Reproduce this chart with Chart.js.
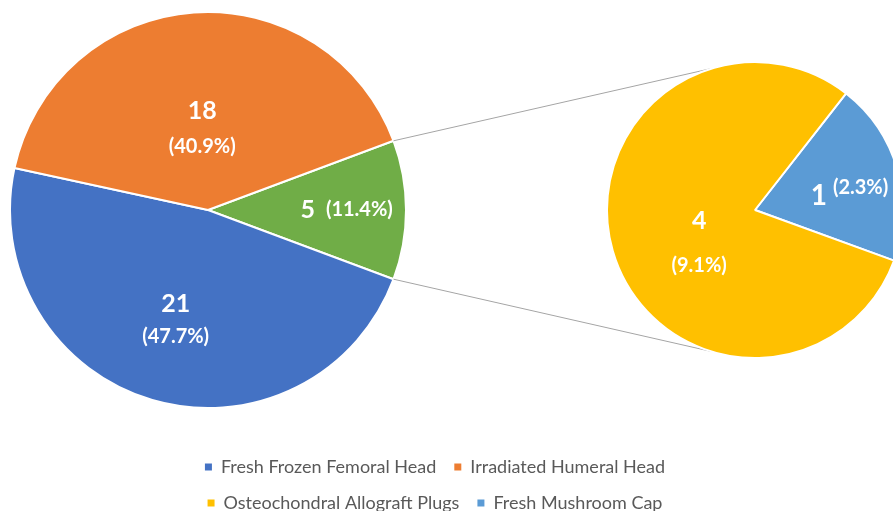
<!DOCTYPE html>
<html>
<head>
<meta charset="utf-8">
<script src="https://cdn.jsdelivr.net/npm/chart.js@4.4.1/dist/chart.umd.min.js"></script>
<style>
	html, body { margin: 0; padding: 0; background: #fff; overflow: hidden; }
	#wrap { position: relative; width: 893px; height: 511px; overflow: hidden; }
	.box { position: absolute; }
	#mainBox { left: 9px; top: 11px; width: 398px; height: 398px; }
	#subBox { left: 380px; top: 0; width: 540px; height: 420px; }
	#legendBox { left: 155px; top: 440px; width: 560px; height: 110px; }
</style>
</head>
<body>
<div id="wrap">
	<div class="box" id="mainBox"><canvas id="mainPie"></canvas></div>
	<div class="box" id="subBox"><canvas id="subPie"></canvas></div>
	<div class="box" id="legendBox"><canvas id="legend"></canvas></div>
</div>
<script>
// data
const categories = ['Fresh Frozen Femoral Head', 'Irradiated Humeral Head', 'Osteochondral Allograft Plugs', 'Fresh Mushroom Cap'];
const counts = [21, 18, 4, 1];
const colors = ['#4472C4', '#ED7D31', '#FFC000', '#5B9BD5'];
const otherColor = '#70AD47';
const splitAt = 2; // categories from here on go into the second pie

const total = counts.reduce((a, b) => a + b, 0);
const otherSum = counts.slice(splitAt).reduce((a, b) => a + b, 0);

// first pie: "other" slice first so it can be centred on the right side
const mainValues = [otherSum, ...counts.slice(0, splitAt)];
const mainColors = [otherColor, ...colors.slice(0, splitAt)];
// second pie: smallest slice first
const subValues = counts.slice(splitAt).reverse();
const subColors = colors.slice(splitAt).reverse();

const FONT = 'Lato, "Open Sans", sans-serif';

// label placement per slice (same order as the pie data)
const mainLabelStyle = [
	{ r: 0.70, inline: true, big: 25, space: 11 },
	{ r: 0.58, gap: 33, big: 25 },
	{ r: 0.41, gap: 36, big: 25 },
];
const subLabelStyle = [
	{ r: 0.65, inline: true, big: 28, space: 6, lift: 8, turn: 5 },
	{ r: 0.44, gap: 45, big: 25, turn: -15 },
];

const sliceLabels = {
	id: 'sliceLabels',
	afterDatasetsDraw(chart, args, opts) {
		const ctx = chart.ctx;
		const values = chart.data.datasets[0].data;
		chart.getDatasetMeta(0).data.forEach((arc, i) => {
			const st = opts.styles[i];
			const mid = (arc.startAngle + arc.endAngle) / 2 + (st.turn || 0) * Math.PI / 180;
			const cx = arc.x + Math.cos(mid) * arc.outerRadius * st.r;
			const cy = arc.y + Math.sin(mid) * arc.outerRadius * st.r;
			const val = String(values[i]);
			const pct = '(' + (values[i] / total * 100).toFixed(1) + '%)';
			const bigFont = `bold ${st.big}px ${FONT}`;
			const smallFont = `bold 20px ${FONT}`;
			ctx.save();
			ctx.fillStyle = '#ffffff';
			ctx.textBaseline = 'middle';
			if (st.inline) {
				ctx.font = bigFont;
				const w1 = ctx.measureText(val).width;
				ctx.font = smallFont;
				const w2 = ctx.measureText(pct).width;
				const x = cx - (w1 + st.space + w2) / 2;
				const lift = st.lift || 0;
				ctx.textAlign = 'left';
				ctx.font = bigFont;
				ctx.fillText(val, x, cy + lift / 2);
				ctx.font = smallFont;
				ctx.fillText(pct, x + w1 + st.space, cy - lift / 2);
			} else {
				ctx.textAlign = 'center';
				ctx.font = bigFont;
				ctx.fillText(val, cx, cy - st.gap / 2);
				ctx.font = smallFont;
				ctx.fillText(pct, cx, cy + st.gap / 2);
			}
			ctx.restore();
		});
	},
};

// lines from the "other" slice to the second pie
const connectorAngle = 107 * Math.PI / 180;
let mainChart;
const connectors = {
	id: 'connectors',
	beforeDatasetsDraw(chart) {
		const src = mainChart.getDatasetMeta(0).data[0];
		const dst = chart.getDatasetMeta(0).data[0];
		const a = mainChart.canvas.getBoundingClientRect();
		const b = chart.canvas.getBoundingClientRect();
		const ox = a.left - b.left;
		const oy = a.top - b.top;
		const ctx = chart.ctx;
		ctx.save();
		ctx.strokeStyle = '#A5A5A5';
		ctx.lineWidth = 1;
		[[src.startAngle, -1], [src.endAngle, 1]].forEach(([ang, side]) => {
			const t = side * connectorAngle;
			ctx.beginPath();
			ctx.moveTo(src.x + ox + Math.cos(ang) * src.outerRadius, src.y + oy + Math.sin(ang) * src.outerRadius);
			ctx.lineTo(dst.x + Math.cos(t) * dst.outerRadius, dst.y + Math.sin(t) * dst.outerRadius);
			ctx.stroke();
		});
		ctx.restore();
	},
};

const pieOptions = (rotation, styles, padding) => ({
	responsive: true,
	maintainAspectRatio: false,
	animation: false,
	rotation: rotation,
	layout: { padding: padding },
	plugins: {
		legend: { display: false },
		tooltip: { enabled: false },
		sliceLabels: { styles: styles },
	},
});

mainChart = new Chart(document.getElementById('mainPie'), {
	type: 'pie',
	data: {
		labels: ['Other', ...categories.slice(0, splitAt)],
		datasets: [{
			data: mainValues,
			backgroundColor: mainColors,
			borderColor: '#ffffff',
			borderWidth: 2,
		}],
	},
	options: pieOptions(90 - (otherSum / total) * 180, mainLabelStyle, 0),
	plugins: [sliceLabels],
});

const subChart = new Chart(document.getElementById('subPie'), {
	type: 'pie',
	data: {
		labels: categories.slice(splitAt).reverse(),
		datasets: [{
			data: subValues,
			backgroundColor: subColors,
			borderColor: '#ffffff',
			borderWidth: 2,
		}],
	},
	options: pieOptions(38, subLabelStyle, { left: 226, right: 16, top: 61, bottom: 61 }),
	plugins: [connectors, sliceLabels],
});

// legend only
const legendChart = new Chart(document.getElementById('legend'), {
	type: 'bar',
	data: { labels: [], datasets: [] },
	options: {
		responsive: true,
		maintainAspectRatio: false,
		animation: false,
		scales: { x: { display: false }, y: { display: false } },
		plugins: {
			tooltip: { enabled: false },
			legend: {
				position: 'top',
				maxHeight: 200,
				labels: {
					boxWidth: 7,
					boxHeight: 7,
					padding: 18,
					color: '#595959',
					font: { family: FONT, size: 18 },
					generateLabels: () => categories.map((c, i) => ({
						text: c,
						fillStyle: colors[i],
						strokeStyle: colors[i],
						lineWidth: 0,
						hidden: false,
						index: i,
						fontColor: '#595959',
					})),
				},
			},
		},
	},
});
</script>
</body>
</html>
